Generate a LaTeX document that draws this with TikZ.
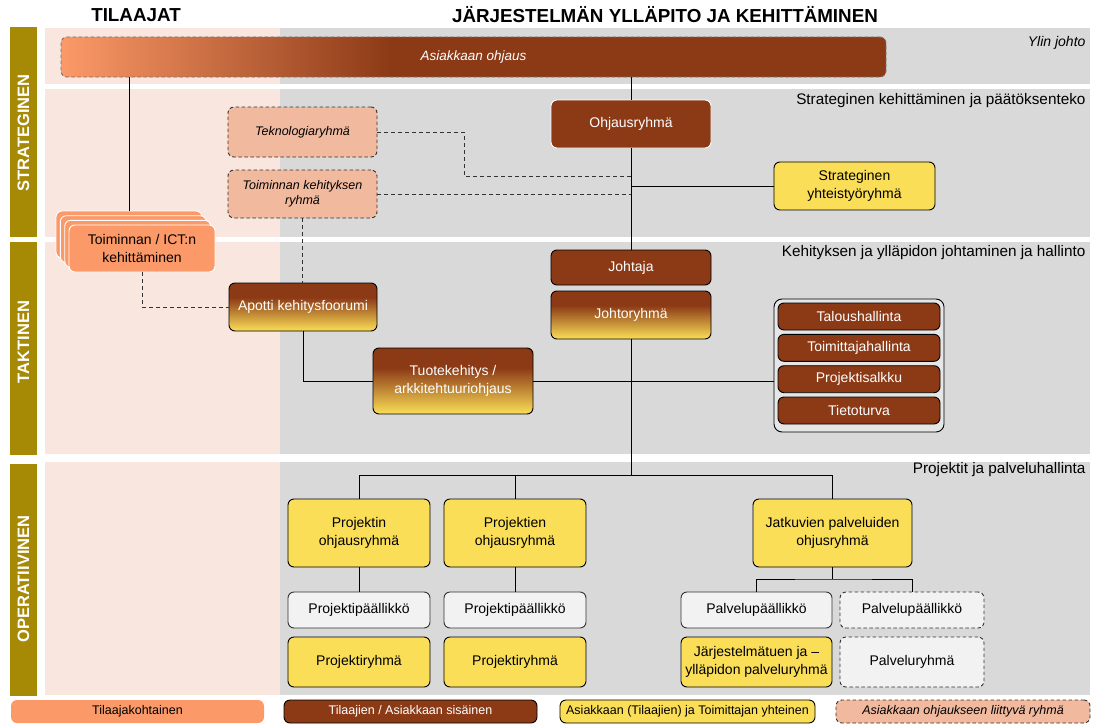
\documentclass[tikz,border=0pt]{standalone}
\usepackage{fontspec}
\setmainfont{Liberation Sans}
\usetikzlibrary{calc}
\definecolor{barolive}{RGB}{166,137,4}
\definecolor{bgpink}{RGB}{249,230,222}
\definecolor{bggray}{RGB}{217,217,217}
\definecolor{brn}{RGB}{140,58,22}
\definecolor{yel}{RGB}{250,222,88}
\definecolor{pinkbox}{RGB}{241,185,158}
\definecolor{orng}{RGB}{252,153,104}
\definecolor{lgray}{RGB}{242,242,242}
\definecolor{grpfill}{RGB}{230,230,230}
\newcommand\fsbox{\fontsize{14}{17.5}\selectfont}
\newcommand\fssmall{\fontsize{12.5}{15}\selectfont}
\newcommand\fslabel{\fontsize{15.3}{18}\selectfont}
\newcommand\fstitle{\fontsize{18.8}{21}\selectfont\bfseries}
\newcommand\fsvert{\fontsize{16.5}{19}\selectfont\bfseries}
\pgfdeclareverticalshading{brnyel}{100bp}{color(0bp)=(yel); color(25bp)=(yel); color(60bp)=(brn); color(100bp)=(brn)}
\pgfdeclarehorizontalshading{orgbrn}{100bp}{color(0bp)=(orng); color(25bp)=(orng); color(45bp)=(brn); color(100bp)=(brn)}
\tikzset{
  dsh/.style={dash pattern=on 3.5pt off 2.5pt},
  bx/.style={rounded corners=6pt, align=center, inner sep=1pt, font=\fsbox, line width=0.9pt},
  brnbox/.style={bx, fill=brn, draw=black, text=white},
  grdbox/.style={bx, shade, shading=brnyel, draw=black, text=white},
  yelbox/.style={bx, fill=yel, draw=black},
  graybox/.style={bx, fill=lgray, draw=black!80},
  dgraybox/.style={bx, fill=lgray, draw=black!80, dsh},
  pinkgrp/.style={bx, fill=pinkbox, draw=black!80, dsh, font=\fssmall\itshape},
  orgbox/.style={bx, fill=orng, draw=white},
  conn/.style={line width=0.9pt, black},
  dconn/.style={line width=0.9pt, black!80, dash pattern=on 4pt off 3pt},
  sz/.style 2 args={minimum width=#1, minimum height=#2},
  rowlabel/.style={anchor=east, font=\fslabel},
  vlabel/.style={rotate=90, text=white, font=\fsvert},
}
\begin{document}
\begin{tikzpicture}[x=1pt,y=-1pt]
\useasboundingbox (0,0) rectangle (1105,725);
% backgrounds
\foreach \a/\b in {28/84, 89/237, 242/454, 462/695}{
  \fill[bgpink] (45,\a) rectangle (280,\b);
  \fill[bggray] (280,\a) rectangle (1090,\b);
}
\fill[barolive] (10,27) rectangle (37,237);
\fill[barolive] (10,242) rectangle (37,455);
\fill[barolive] (10,464) rectangle (37,696);
\node[vlabel] (vstrat) at (23.5,133) {STRATEGINEN};
\node[vlabel] (vtakt) at (23.5,342) {TAKTINEN};
\node[vlabel] (voper) at (23.5,579) {OPERATIIVINEN};
% titles
\node[font=\fstitle] (t1) at (136,15) {TILAAJAT};
\node[font=\fstitle] (t2) at (665,15) {JÄRJESTELMÄN YLLÄPITO JA KEHITTÄMINEN};
% row labels
\node[rowlabel, font=\fontsize{14}{17}\selectfont\itshape] (l1) at (1089,43) {Ylin johto};
\node[rowlabel] (l2) at (1089,101) {Strateginen kehittäminen ja päätöksenteko};
\node[rowlabel] (l3) at (1089,253) {Kehityksen ja ylläpidon johtaminen ja hallinto};
\node[rowlabel] (l4) at (1089,470) {Projektit ja palveluhallinta};
\coordinate (tk) at (464,176);
\coordinate (hub) at (631,475);
\coordinate (jh) at (832.5,579);
% nodes
\node[bx, shade, shading=orgbrn, draw=black!55, dsh, text=white, font=\fontsize{13.5}{16}\selectfont\itshape, sz={825}{40}] (asiak) at (473.5,57) {Asiakkaan ohjaus};
\node[brnbox, draw=white, sz={160}{48}] (ohj) at (631,124) {Ohjausryhmä};
\node[pinkgrp, sz={149}{50}] (tekno) at (302.5,132) {Teknologiaryhmä};
\node[pinkgrp, sz={149}{48}] (toim) at (302.5,194) {Toiminnan kehityksen\\ryhmä};
\node[yelbox, sz={161}{48}] (syr) at (854.5,186) {Strateginen\\yhteistyöryhmä};
\node[orgbox, sz={146}{47}] (st4) at (129,234.5) {};
\node[orgbox, sz={146}{47}] (st3) at (133.3,239.2) {};
\node[orgbox, sz={146}{47}] (st2) at (137.7,243.8) {};
\node[orgbox, sz={146}{47}] (st1) at (142,248.5) {Toiminnan / ICT:n\\kehittäminen};
\node[brnbox, sz={160}{35}] (johtaja) at (631,267.5) {Johtaja};
\node[grdbox, sz={160}{48}] (johtor) at (631,315) {Johtoryhmä};
\node[grdbox, sz={148}{48}] (apotti) at (303,307) {Apotti kehitysfoorumi};
\node[grdbox, sz={160}{66}] (tuote) at (453,381) {Tuotekehitys /\\arkkitehtuuriohjaus};
\node[bx, draw=black, fill=grpfill, rounded corners=8pt, sz={170}{133}] (grp) at (859,365.5) {};
\node[brnbox, sz={162}{27}] (talous) at (859,316.5) {Taloushallinta};
\node[brnbox, sz={162}{27}] (toimitt) at (859,347.8) {Toimittajahallinta};
\node[brnbox, sz={162}{27}] (psalkku) at (859,379.2) {Projektisalkku};
\node[brnbox, sz={162}{27}] (tturva) at (859,410.5) {Tietoturva};
\node[yelbox, sz={142}{68}] (pohj1) at (359,533) {Projektin\\ohjausryhmä};
\node[yelbox, sz={142}{68}] (pohj2) at (515,533) {Projektien\\ohjausryhmä};
\node[yelbox, sz={159}{68}] (jatk) at (832.5,533) {Jatkuvien palveluiden\\ohjusryhmä};
\node[graybox, sz={142}{36}] (pp1) at (359,610) {Projektipäällikkö};
\node[graybox, sz={142}{36}] (pp2) at (515,610) {Projektipäällikkö};
\node[yelbox, sz={142}{50}] (pr1) at (359,662) {Projektiryhmä};
\node[yelbox, sz={142}{50}] (pr2) at (515,662) {Projektiryhmä};
\node[graybox, sz={151}{36}] (palv1) at (756.5,610) {Palvelupäällikkö};
\node[dgraybox, sz={144}{36}] (palv2) at (912,610) {Palvelupäällikkö};
\node[yelbox, sz={151}{50}] (jarj) at (756.5,662) {Järjestelmätuen ja –\\ylläpidon palveluryhmä};
\node[dgraybox, sz={144}{50}] (palvr) at (912,662) {Palveluryhmä};
% legend
\node[bx, fill=orng, draw=none, font=\fssmall, sz={253}{23}] (leg1) at (137.5,711.5) {Tilaajakohtainen};
\node[brnbox, font=\fssmall, sz={253}{23}] (leg2) at (410.5,711.5) {Tilaajien / Asiakkaan sisäinen};
\node[yelbox, font=\fssmall, sz={255}{23}] (leg3) at (687.5,711.5) {Asiakkaan (Tilaajien) ja Toimittajan yhteinen};
\node[pinkgrp, sz={254}{23}] (leg4) at (963,711.5) {Asiakkaan ohjaukseen liittyvä ryhmä};
% connectors
\draw[conn] (asiak.south -| ohj.north) -- (ohj.north);
\draw[conn] (asiak.south -| st4.north) -- (st4.north);
\draw[conn] (ohj.south) -- (johtaja.north);
\draw[conn] (ohj.south |- syr.west) -- (syr.west);
\draw[dconn] (tekno.east) -| (tk) -- (tk -| ohj.south);
\draw[dconn] (toim.east) -- (toim.east -| ohj.south);
\draw[dconn] (toim.south) -- (toim.south |- apotti.north);
\draw[dconn] (st1.south) |- (apotti.west);
\draw[conn] (apotti.south) |- (tuote.west);
\draw[conn] (tuote.east) -- (tuote.east -| grp.west);
\draw[conn] (johtor.south) -- (hub);
\draw[conn] (pohj1.north) -- (pohj1.north |- hub) -- (jatk.north |- hub) -- (jatk.north);
\draw[conn] (pohj2.north) -- (pohj2.north |- hub);
\draw[conn] (pohj1.south) -- (pp1.north);
\draw[conn] (pohj2.south) -- (pp2.north);
\draw[conn] (jatk.south) -- (jh);
\draw[conn] (palv1.north) |- (jh) -| (palv2.north);
\end{tikzpicture}
\end{document}
